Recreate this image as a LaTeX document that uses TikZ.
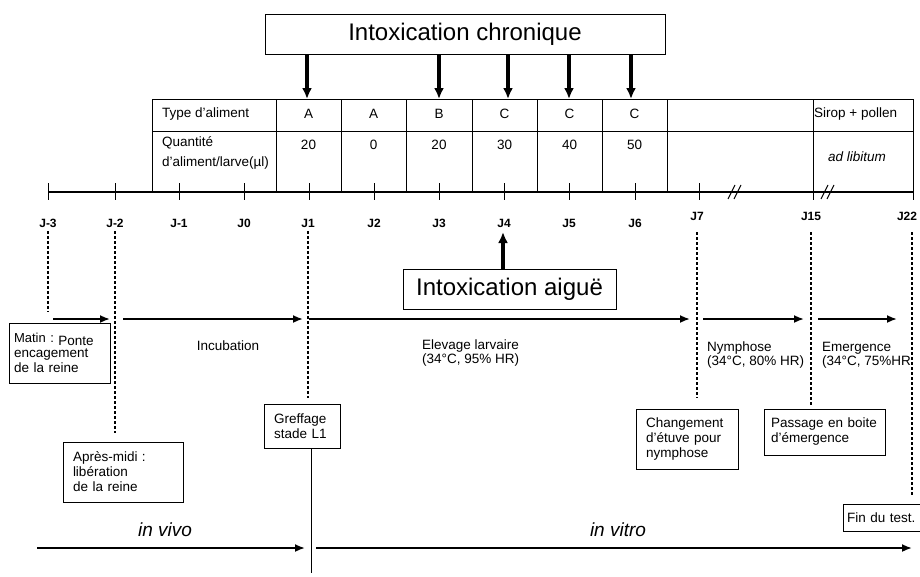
\documentclass[tikz,border=0pt]{standalone}
\usepackage{fontspec}
\setmainfont{Liberation Sans}
\usetikzlibrary{arrows.meta}
\begin{document}
\begin{tikzpicture}[x=1pt,y=-1pt,
  sm/.style={font=\fontsize{13.5}{13.5}\selectfont, inner sep=0pt},
  lbl/.style={font=\fontsize{12}{14}\selectfont\bfseries, inner sep=0pt},
  big/.style={font=\fontsize{24}{28}\selectfont},
  bigbox/.style={draw, line width=1pt, big, inner sep=0pt},
  boxed/.style={draw, line width=1pt, font=\fontsize{13.5}{15}\selectfont, align=left, inner ysep=0pt},
  dsh/.style={line width=1.6pt, dash pattern=on 3pt off 2pt},
  arr/.style={line width=1.8pt, -{Latex[length=10pt,width=8pt]}},
  fat/.style={line width=4pt, -{Latex[length=11pt,width=10pt]}},
  tbl/.style={line width=1pt},
  tick/.style={line width=1pt},
  bigit/.style={font=\fontsize{19}{22}\selectfont\itshape, inner sep=0pt}
]
\useasboundingbox (0,0) rectangle (920,576);

% chronic intoxication box and arrows
\node[bigbox, minimum width=400pt, minimum height=40pt] (chron) at (465,34) {Intoxication chronique};
\foreach \x/\n in {307/t1,439/t3,508/t4,569/t5,631/t6}{
  \coordinate (\n) at (\x,99);
  \draw[fat] (chron.south -| \n) -- (\n);
}

% table
\draw[tbl] (152,99) rectangle (913,192);
\draw[tbl] (152,131) -- (913,131);
\foreach \x in {276,341,406,472,537,602,667,813} \draw[tbl] (\x,99) -- (\x,192);

\node[sm, anchor=west] (type) at (162,114) {Type d'aliment};
\node[sm, anchor=west, align=left, font=\fontsize{13.5}{20}\selectfont] (quant) at (162,153) {Quantité\\d'aliment/larve(µl)};
\foreach \x/\n/\a/\q in {308.5/c1/A/20, 373.5/c2/A/0, 439/c3/B/20, 504.5/c4/C/30, 569.5/c5/C/40, 634.5/c6/C/50}{
  \node[sm] (\n a) at (\x,114) {\a};
  \node[sm] (\n q) at (\x,145) {\q};
}
\node[sm, anchor=west] (sirop) at (814,114) {Sirop + pollen};
\node[sm, font=\fontsize{13.5}{15}\selectfont\itshape] (adlib) at (857,157) {ad libitum};

% axis
\draw[line width=1.5pt] (48,192) -- (913,192);
\foreach \x in {48,115,179,244,309,374,439,504,569,635,699,813,913} \draw[tick] (\x,183) -- (\x,200);
\foreach \x/\n/\t/\yy in {48/jm3/J-3/223, 115/jm2/J-2/223, 179/jm1/J-1/223, 244/j0/J0/223, 308/j1/J1/223, 374/j2/J2/223, 439/j3/J3/223, 504/j4/J4/223, 569/j5/J5/223, 635/j6/J6/223, 697/j7/J7/216, 811/j15/J15/216, 907/j22/J22/216}
  \node[lbl] (\n) at (\x,\yy) {\t};
% break marks
\draw[tick] (728,199) -- (735,185);
\draw[tick] (734,199) -- (741,185);
\draw[tick] (821,199) -- (828,185);
\draw[tick] (827,199) -- (834,185);

% acute intoxication
\node[bigbox, minimum width=213pt, minimum height=40pt] (aigu) at (509.5,289) {Intoxication aiguë};
\coordinate (aiguTip) at (503,232);
\draw[fat] (aigu.north -| aiguTip) -- (aiguTip);

% boxes
\node[boxed, minimum width=101pt, minimum height=60pt, text width=91pt, inner xsep=5pt] (matin) at (59.5,353)
  {{\fontsize{13}{15}\selectfont Matin :}~\raisebox{-2.5pt}{Ponte}\\encagement\\de la reine};
\node[boxed, minimum width=120pt, minimum height=60pt, text width=100pt, inner xsep=10pt] (apres) at (123,472)
  {Après-midi :\\libération\\de la reine};
\node[boxed, minimum width=76pt, minimum height=44pt, text width=56pt, inner xsep=10pt] (greffe) at (302,426)
  {Greffage\\stade L1};
\node[boxed, minimum width=102pt, minimum height=60pt, text width=82pt, inner xsep=10pt] (change) at (687,439)
  {Changement\\d'étuve pour\\nymphose};
\node[boxed, minimum width=121pt, minimum height=46pt, text width=107pt, inner xsep=7pt] (passage) at (824.5,432)
  {Passage en boite\\d'émergence};
\node[boxed, minimum width=78pt, minimum height=27pt, text width=70pt, inner xsep=4pt] (fin) at (882,517.5)
  {Fin du test.};

% dashed lines
\coordinate (e3) at (48,312);
\coordinate (d22) at (912,232);
\draw[dsh, shorten <=4pt] (jm3.south) -- (e3);
\draw[dsh, shorten <=4pt, shorten >=9pt] (jm2.south) -- (jm2.south |- apres.north);
\draw[dsh, shorten <=4pt, shorten >=6pt] (j1.south) -- (j1.south |- greffe.north);
\draw[dsh, shorten <=12pt, shorten >=11pt] (j7.south) -- (j7.south |- change.north);
\draw[dsh, shorten <=12pt, shorten >=4pt] (j15.south) -- (j15.south |- passage.north);
\draw[dsh, shorten >=7pt] (d22) -- (d22 |- fin.north);

% phase arrows
\coordinate (r1s) at (53,319);  \coordinate (r1e) at (110,319);
\coordinate (r2s) at (123,319); \coordinate (r2e) at (303,319);
\coordinate (r3s) at (309,319); \coordinate (r3e) at (690,319);
\coordinate (r4s) at (703,319); \coordinate (r4e) at (804,319);
\coordinate (r5s) at (818,319); \coordinate (r5e) at (897,319);
\draw[arr] (r1s) -- (r1e);
\draw[arr] (r2s) -- (r2e);
\draw[arr] (r3s) -- (r3e);
\draw[arr] (r4s) -- (r4e);
\draw[arr] (r5s) -- (r5e);

% phase texts
\node[sm] (incub) at (228,346) {Incubation};
\node[sm, align=left, anchor=west] (elev) at (422,353) {Elevage larvaire\\(34°C, 95\% HR)};
\node[sm, align=left, anchor=west] (nymph) at (707,355) {Nymphose\\(34°C, 80\% HR)};
\node[sm, align=left, anchor=west] (emerg) at (822,355) {Emergence\\(34°C, 75\%HR};

% greffage line
\coordinate (gbot) at (311,573);
\draw[line width=0.8pt] (greffe.south -| gbot) -- (gbot);

% in vivo / in vitro
\node[bigit] (vivo) at (165,530) {in vivo};
\node[bigit] (vitro) at (618,530) {in vitro};
\coordinate (vivoS) at (37,548);   \coordinate (vivoE) at (305,548);
\coordinate (vitroS) at (316,548); \coordinate (vitroE) at (912,548);
\draw[arr] (vivoS) -- (vivoE);
\draw[arr] (vitroS) -- (vitroE);
\end{tikzpicture}
\end{document}
